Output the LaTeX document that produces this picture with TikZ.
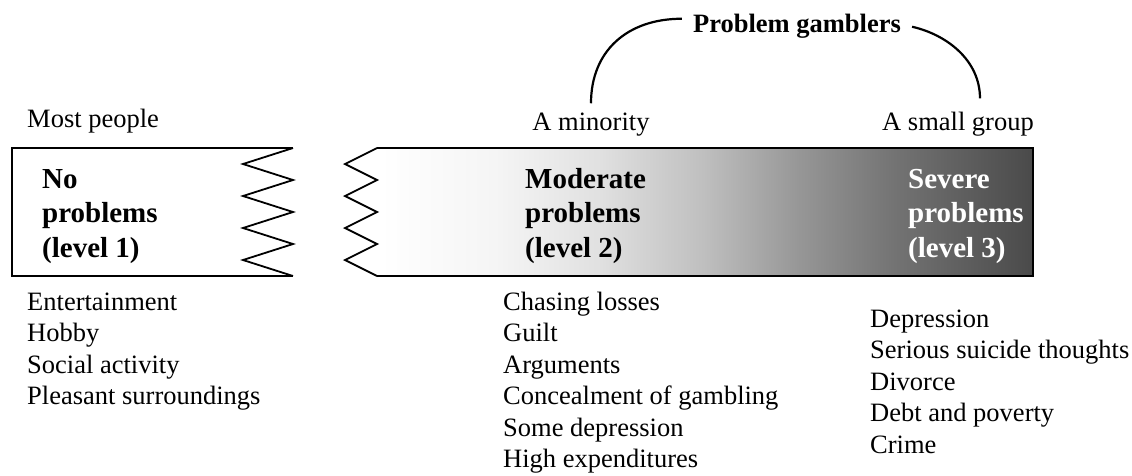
\documentclass[tikz,border=0pt]{standalone}
\usepackage{fontspec}
\setmainfont{Liberation Serif}
\pgfdeclarehorizontalshading{gambshade}{100bp}{color(0bp)=(white); color(27.5bp)=(white); color(36bp)=(black!4); color(43.5bp)=(black!12); color(51bp)=(black!25); color(58bp)=(black!41); color(65bp)=(black!55); color(75bp)=(black!71); color(100bp)=(black!71)}
\begin{document}
\begin{tikzpicture}[x=1pt,y=-1pt,
  txt/.style={inner sep=0pt, anchor=base west, align=left, font=\fontsize{26.5}{31.5}\selectfont},
  boxtxt/.style={inner sep=0pt, anchor=base west, align=left, font=\fontsize{29}{34.5}\selectfont\bfseries},
  frame/.style={line width=2.6pt, line join=miter},
  zig/.style={line width=1.8pt, line join=miter},
  arcline/.style={line width=2.2pt}]
\useasboundingbox (0,0) rectangle (1132,475);

% left box
\fill[white] (12,148) rectangle (293,276);
\draw[frame] (293,148) -- (12,148) -- (12,276) -- (293,276);
\draw[zig] (293,148) -- (243,164) -- (293,180) -- (243,196) -- (293,212) -- (243,228) -- (293,244) -- (243,260) -- (293,276);

% right box
\shade[shading=gambshade] (1033,148) -- (377,148) -- (345,164) -- (377,180) -- (345,196) -- (377,212) -- (345,228) -- (377,244) -- (345,260) -- (377,276) -- (1033,276) -- cycle;
\draw[frame] (377,148) -- (1033,148) -- (1033,276) -- (377,276);
\draw[zig] (377,148) -- (345,164) -- (377,180) -- (345,196) -- (377,212) -- (345,228) -- (377,244) -- (345,260) -- (377,276);

% box texts (anchored at the baseline of the last line)
\node[boxtxt] (l1) at (42,257) {No\\problems\\(level 1)};
\node[boxtxt] (l2) at (525,257) {Moderate\\problems\\(level 2)};
\node[boxtxt, text=white] (l3) at (908,257) {Severe\\problems\\(level 3)};

% top labels
\node[txt] (most) at (27,127) {Most people};
\node[txt, anchor=base] (min) at (591,130) {A minority};
\node[txt, anchor=base east] (sg) at (1034,130) {A small group};
\node[inner sep=0pt, anchor=base, font=\fontsize{26.5}{31.5}\selectfont\bfseries] (pg) at (797,32) {Problem gamblers};

\draw[arcline] ([yshift=9pt]min.north) .. controls +(0,-52) and +(-55,0) .. ([xshift=-11pt,yshift=7pt]pg.west);
\draw[arcline] ([xshift=11pt,yshift=-1pt]pg.east) .. controls +(35,8) and +(0,-38) .. ([xshift=22pt,yshift=13pt]sg.north);

% lists (anchored at the baseline of the last line)
\node[txt] (list1) at (27,404.5) {Entertainment\\Hobby\\Social activity\\Pleasant surroundings};
\node[txt] (list2) at (503,467.5) {Chasing losses\\Guilt\\Arguments\\Concealment of gambling\\Some depression\\High expenditures};
\node[txt] (list3) at (870,453) {Depression\\Serious suicide thoughts\\Divorce\\Debt and poverty\\Crime};
\end{tikzpicture}
\end{document}
